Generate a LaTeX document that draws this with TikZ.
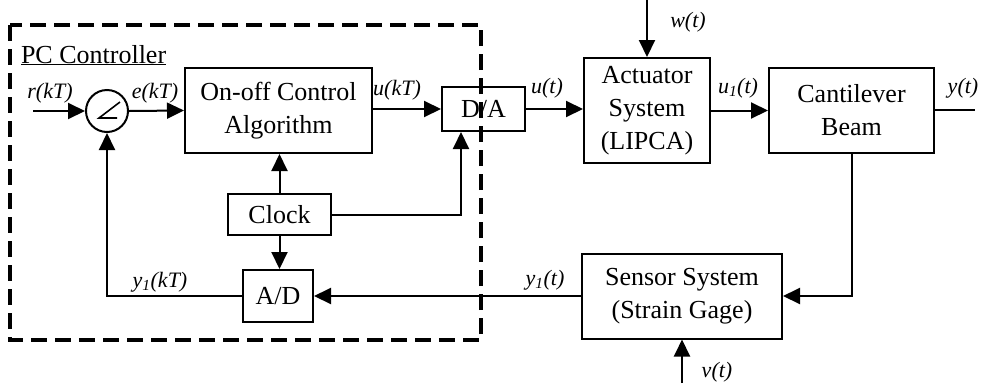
\documentclass[tikz,border=0pt]{standalone}
\usepackage{fontspec}
\setmainfont{Liberation Serif}
\usetikzlibrary{arrows.meta,calc}
\begin{document}
\begin{tikzpicture}[x=1pt,y=-1pt,
  line width=2pt,
  blk/.style={draw,line width=2pt,inner sep=0pt,align=center,font=\fontsize{26}{33}\selectfont},
  lbl/.style={font=\fontsize{22}{26}\selectfont\itshape,inner sep=0pt},
  arr/.style={-{Triangle[length=17pt,width=16pt]}},
  ctrlbox/.style={draw,line width=3.5pt,dash pattern=on 16pt off 8pt}
]
\useasboundingbox (0,0) rectangle (990,389);
% controller boundary
\draw[ctrlbox] (10,25) rectangle (481,340);
\node[anchor=base west,font=\fontsize{26}{30}\selectfont,inner sep=0pt] (pc) at (20,63) {\underline{PC Controller}};
% blocks
\node[draw,circle,line width=2pt,minimum size=42pt,inner sep=0pt] (sum) at (107,111) {};
\draw[line width=1.6pt] ($(sum.center)+(13,-9)$) -- ($(sum.center)+(-8,7)$) -- ($(sum.center)+(10,7)$);
\node[blk,minimum width=187pt,minimum height=85pt] (onoff) at (278.5,110.5) {On-off Control\\Algorithm};
\node[blk,minimum width=83pt,minimum height=44pt] (da) at (483.5,109) {D/A};
\node[blk,minimum width=126pt,minimum height=105pt] (act) at (647,110.5) {Actuator\\System\\(LIPCA)};
\node[blk,minimum width=165pt,minimum height=85pt] (cant) at (851.5,110.5) {Cantilever\\Beam};
\node[blk,minimum width=200pt,minimum height=85pt] (sens) at (682,296) {Sensor System\\(Strain Gage)};
\node[blk,minimum width=103pt,minimum height=41pt] (clock) at (279.5,214.5) {Clock};
\node[blk,minimum width=70pt,minimum height=52pt] (ad) at (278,296) {A/D};
% free ends
\coordinate (rin) at (33,111);
\coordinate (yout) at (975,110);
\coordinate (win) at (647,0);
\coordinate (vin) at (682,383);
% connectors
\draw[arr] (rin) -- (sum.west);
\draw[arr] (sum.east) -- (onoff.west);
\draw[arr] (onoff.east |- da.west) -- (da.west);
\draw[arr] (da.east) -- (da.east -| act.west);
\draw[arr] (act.east |- cant.west) -- (cant.west);
\draw (cant.east |- yout) -- (yout);
\draw[arr] (win) -- (act.north);
\draw[arr] (cant.south) |- (sens.east);
\draw[arr] (vin) -- (sens.south);
\draw[arr] (sens.west) -- (ad.east);
\draw[arr] (ad.west) -| (sum.south);
\draw[arr] (clock.north) -- (clock.north |- onoff.south);
\draw[arr] (clock.south) -- (clock.south |- ad.north);
\draw[arr] (clock.east) -| ([xshift=20pt]da.south west);
% labels
\node[lbl] (lr) at (50,93) {r(kT)};
\node[lbl] (le) at (155,93) {e(kT)};
\node[lbl] (lukt) at (397,90) {u(kT)};
\node[lbl] (lut) at (547,88) {u(t)};
\node[lbl] (lw) at (688,22) {w(t)};
\node[lbl] (lu1) at (738,88) {u\textsubscript{1}(t)};
\node[lbl] (ly) at (963,88) {y(t)};
\node[lbl] (ly1t) at (545,280) {y\textsubscript{1}(t)};
\node[lbl] (lv) at (717,372) {v(t)};
\node[lbl] (ly1kt) at (160,282) {y\textsubscript{1}(kT)};
\end{tikzpicture}
\end{document}
